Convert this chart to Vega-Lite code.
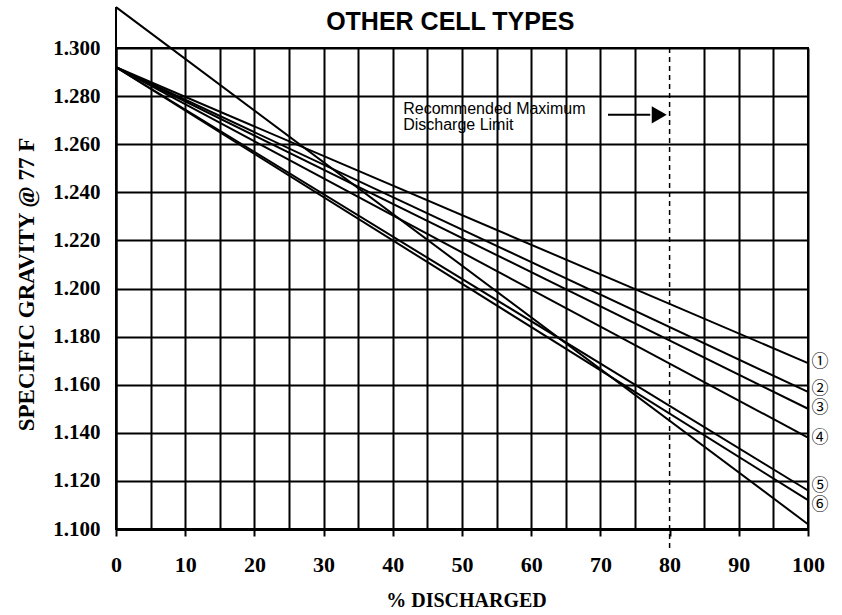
{
  "$schema": "https://vega.github.io/schema/vega-lite/v6.json",
  "width": 692,
  "height": 481,
  "autosize": {"type": "none"},
  "padding": {"left": 116, "top": 48, "right": 34, "bottom": 86},
  "background": "white",
  "config": {"view": {"stroke": "black", "strokeWidth": 2}},
  "datasets": {
    "curves": [
      {"curve": "1", "pct": 0, "sg": 1.292}, {"curve": "1", "pct": 100, "sg": 1.169},
      {"curve": "2", "pct": 0, "sg": 1.292}, {"curve": "2", "pct": 100, "sg": 1.157},
      {"curve": "3", "pct": 0, "sg": 1.292}, {"curve": "3", "pct": 100, "sg": 1.150},
      {"curve": "4", "pct": 0, "sg": 1.292}, {"curve": "4", "pct": 100, "sg": 1.138},
      {"curve": "5", "pct": 0, "sg": 1.292}, {"curve": "5", "pct": 100, "sg": 1.116},
      {"curve": "6", "pct": 0, "sg": 1.292}, {"curve": "6", "pct": 100, "sg": 1.112},
      {"curve": "7", "pct": 0, "sg": 1.317}, {"curve": "7", "pct": 100, "sg": 1.102}
    ],
    "tags": [
      {"pct": 100, "sg": 1.1695, "label": "①"},
      {"pct": 100, "sg": 1.1581, "label": "②|③"},
      {"pct": 100, "sg": 1.1378, "label": "④"},
      {"pct": 100, "sg": 1.1178, "label": "⑤|⑥"}
    ],
    "notes": [
      {"pct": 41.5, "sg": 1.2747, "label": "Recommended Maximum"},
      {"pct": 41.5, "sg": 1.268, "label": "Discharge Limit"}
    ],
    "heading": [
      {"pct": 48.3, "sg": 1.3075, "label": "OTHER CELL TYPES"}
    ]
  },
  "encoding": {
    "x": {"field": "pct", "type": "quantitative",
      "scale": {"domain": [0, 100], "nice": false, "zero": false},
      "axis": {
        "values": [0, 5, 10, 15, 20, 25, 30, 35, 40, 45, 50, 55, 60, 65, 70, 75, 80, 85, 90, 95, 100],
        "labelExpr": "datum.value % 10 === 0 ? datum.label : ''",
        "labelFlush": false, "labelOverlap": false,
        "labelFont": "Liberation Serif", "labelFontWeight": "bold", "labelFontSize": 22, "labelColor": "black", "labelPadding": 18,
        "ticks": true, "tickSize": 7, "tickWidth": 2, "tickColor": "black",
        "tickOpacity": {"condition": {"test": "datum.value % 10 === 0", "value": 1}, "value": 0},
        "grid": true, "gridColor": "black", "gridWidth": 2,
        "gridOpacity": {"condition": {"test": "datum.value === 80", "value": 0}, "value": 1},
        "domain": true, "domainColor": "black", "domainWidth": 3,
        "title": "% DISCHARGED", "titleFont": "Liberation Serif", "titleFontWeight": "bold", "titleFontSize": 20, "titleColor": "black",
        "titleX": 350, "titleY": 71, "titleBaseline": "middle", "titleAlign": "center"
      }
    },
    "y": {"field": "sg", "type": "quantitative",
      "scale": {"domain": [1.1, 1.3], "nice": false, "zero": false},
      "axis": {
        "values": [1.1, 1.12, 1.14, 1.16, 1.18, 1.2, 1.22, 1.24, 1.26, 1.28, 1.3],
        "format": ".3f",
        "labelFont": "Liberation Serif", "labelFontWeight": "bold", "labelFontSize": 21, "labelColor": "black", "labelPadding": 16,
        "ticks": false,
        "grid": true, "gridColor": "black", "gridWidth": 2, "gridOpacity": 1,
        "domain": true, "domainColor": "black", "domainWidth": 2,
        "title": "SPECIFIC GRAVITY @ 77 F", "titleFont": "Liberation Serif", "titleFontWeight": "bold", "titleFontSize": 23, "titleColor": "black",
        "titleX": -90, "titleY": 236, "titleAngle": -90, "titleAlign": "center", "titleBaseline": "middle"
      }
    }
  },
  "layer": [
    {
      "data": {"name": "curves"},
      "mark": {"type": "line", "color": "black", "strokeWidth": 2, "clip": false},
      "encoding": {"detail": {"field": "curve", "type": "nominal"}}
    },
    {
      "data": {"values": [{"pct": 0, "sg": 1.3, "sg2": 1.317}]},
      "mark": {"type": "rule", "color": "black", "strokeWidth": 2, "clip": false},
      "encoding": {"y2": {"field": "sg2"}}
    },
    {
      "data": {"values": [{"pct": 80, "sg": 1.3, "sg2": 1.0913}]},
      "mark": {"type": "rule", "color": "black", "strokeWidth": 1.5, "strokeDash": [5, 4], "clip": false},
      "encoding": {"y2": {"field": "sg2"}}
    },
    {
      "data": {"values": [{"pct": 71.1, "pct2": 77.2, "sg": 1.2722}]},
      "mark": {"type": "rule", "color": "black", "strokeWidth": 2},
      "encoding": {"x2": {"field": "pct2"}}
    },
    {
      "data": {"values": [{"pct": 78.5, "sg": 1.2722}]},
      "mark": {"type": "point", "shape": "triangle-right", "filled": true, "color": "black", "opacity": 1, "size": 300}
    },
    {
      "data": {"name": "notes"},
      "mark": {"type": "text", "align": "left", "baseline": "middle", "font": "Liberation Sans", "fontSize": 16, "color": "black"},
      "encoding": {"text": {"field": "label"}}
    },
    {
      "data": {"name": "heading"},
      "mark": {"type": "text", "align": "center", "baseline": "alphabetic", "font": "Liberation Sans", "fontSize": 25, "fontWeight": "bold", "color": "black", "clip": false},
      "encoding": {"text": {"field": "label"}}
    },
    {
      "data": {"name": "tags"},
      "mark": {"type": "text", "align": "center", "baseline": "middle", "dx": 12, "font": "Noto Sans CJK JP", "fontSize": 17, "lineBreak": "|", "lineHeight": 19, "color": "black", "clip": false},
      "encoding": {"text": {"field": "label"}}
    }
  ]
}
